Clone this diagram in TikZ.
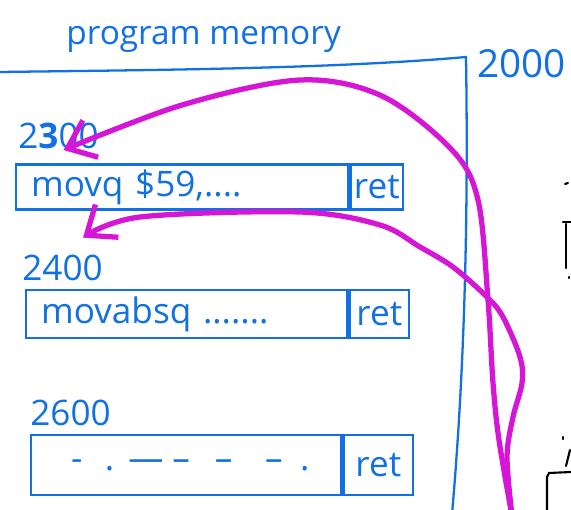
\documentclass[tikz,border=0pt]{standalone}
\usepackage{fontspec}
\setmainfont{Open Sans}
\usepackage{xcolor}
\usepackage{tikz}
\definecolor{penblue}{RGB}{16, 112, 228}
\definecolor{penmagenta}{RGB}{214, 22, 214}
\usetikzlibrary{arrows.meta, positioning, calc}

\begin{document}
\begin{tikzpicture}[
    x=0.02cm, y=-0.02cm,
    pen/.style={draw=penblue, line width=1.3pt, line cap=round},
    hand/.style={text=penblue, font=\fontsize{20}{24}\selectfont},
    instr/.style={pen, hand, rectangle, align=left, inner xsep=0.3cm, inner ysep=0pt, anchor=west},
    retcell/.style={pen, hand, rectangle, inner sep=0pt, anchor=west},
    addr/.style={hand, anchor=base west, inner sep=0pt},
    jump/.style={draw=penmagenta, line width=3pt, line cap=round, line join=round,
        -{Straight Barb[length=0.5cm, width=0.8cm, line width=3pt]}}
]
    \useasboundingbox (0,0) rectangle (571,510);

    % memory region
    \node[hand, font=\fontsize{19}{23}\selectfont, anchor=base west, inner sep=0pt] (title) at (66,45) {program memory};
    \coordinate (memcorner) at (466,57);
    \draw[pen] (0,72) .. controls (150,70) and (330,69) .. (memcorner)
        .. controls (469,250) and (462,400) .. (452,514);
    \node[addr, font=\fontsize{22}{26}\selectfont] (addr2000) at (477,78) {2000};

    % functions
    \node[addr] (addr2300) at (18,148) {2\textbf{3}00};
    \node[instr, text width=6.04cm, minimum height=0.9cm] (movqbox) at (15,187) {movq \$59,....};
    \node[retcell, minimum width=1.06cm, minimum height=0.9cm] (movqret) at (movqbox.east) {ret};

    \node[addr] (addr2400) at (22,280) {2400};
    \node[instr, text width=5.82cm, minimum height=0.96cm] (absbox) at (25,314) {movabsq .......};
    \node[retcell, minimum width=1.2cm, minimum height=0.96cm] (absret) at (absbox.east) {ret};

    \node[addr] (addr2600) at (30,425) {2600};
    \node[instr, text width=5.6cm, minimum height=1.2cm] (blankbox) at (30,465)
        {\mbox{\hspace{0.5cm}-\hspace{0.45cm}.\hspace{0.28cm}—\hspace{0.18cm}–\hspace{0.5cm}–\hspace{0.65cm}–\hspace{0.35cm}.}};
    \node[retcell, minimum width=1.4cm, minimum height=1.2cm] (blankret) at (blankbox.east) {ret};

    % call and return
    \coordinate (caller) at (512,516);
    \coordinate (entry2300) at ($(addr2300.base)+(5,2)$);
    \coordinate (back) at ($(movqbox.south west)+(68,27)$);
    \draw[jump] plot[smooth, tension=0.55] coordinates {(caller) (499,440) (493,383) (488,300)
        (478,200) (452,150) (382,96) (300,80) (182,105) (entry2300)};
    \draw[jump] plot[smooth, tension=0.55] coordinates {(caller) (507,457) (513,417) (522,383)
        (520,357) (503,317) (487,297) (453,267) (420,247) (380,225) (300,212) (140,217) (back)};

    % cut-off marks at the right edge
    \draw[line width=1.2pt, line cap=round] (565,184) -- (568,183);
    \draw[line width=1.2pt, line cap=round] (563,222) -- (571,222) (566,224) -- (566,268);
    \draw[line width=1.2pt, line cap=round] (569,277) -- (569,278) (563,437) -- (563,439);
    \draw[line width=1.2pt, line cap=round] (566,466) -- (570,450);
    \draw[line width=1.2pt, line cap=round] (547,514) -- (547,477) -- (549,473) -- (571,472);
\end{tikzpicture}
\end{document}
